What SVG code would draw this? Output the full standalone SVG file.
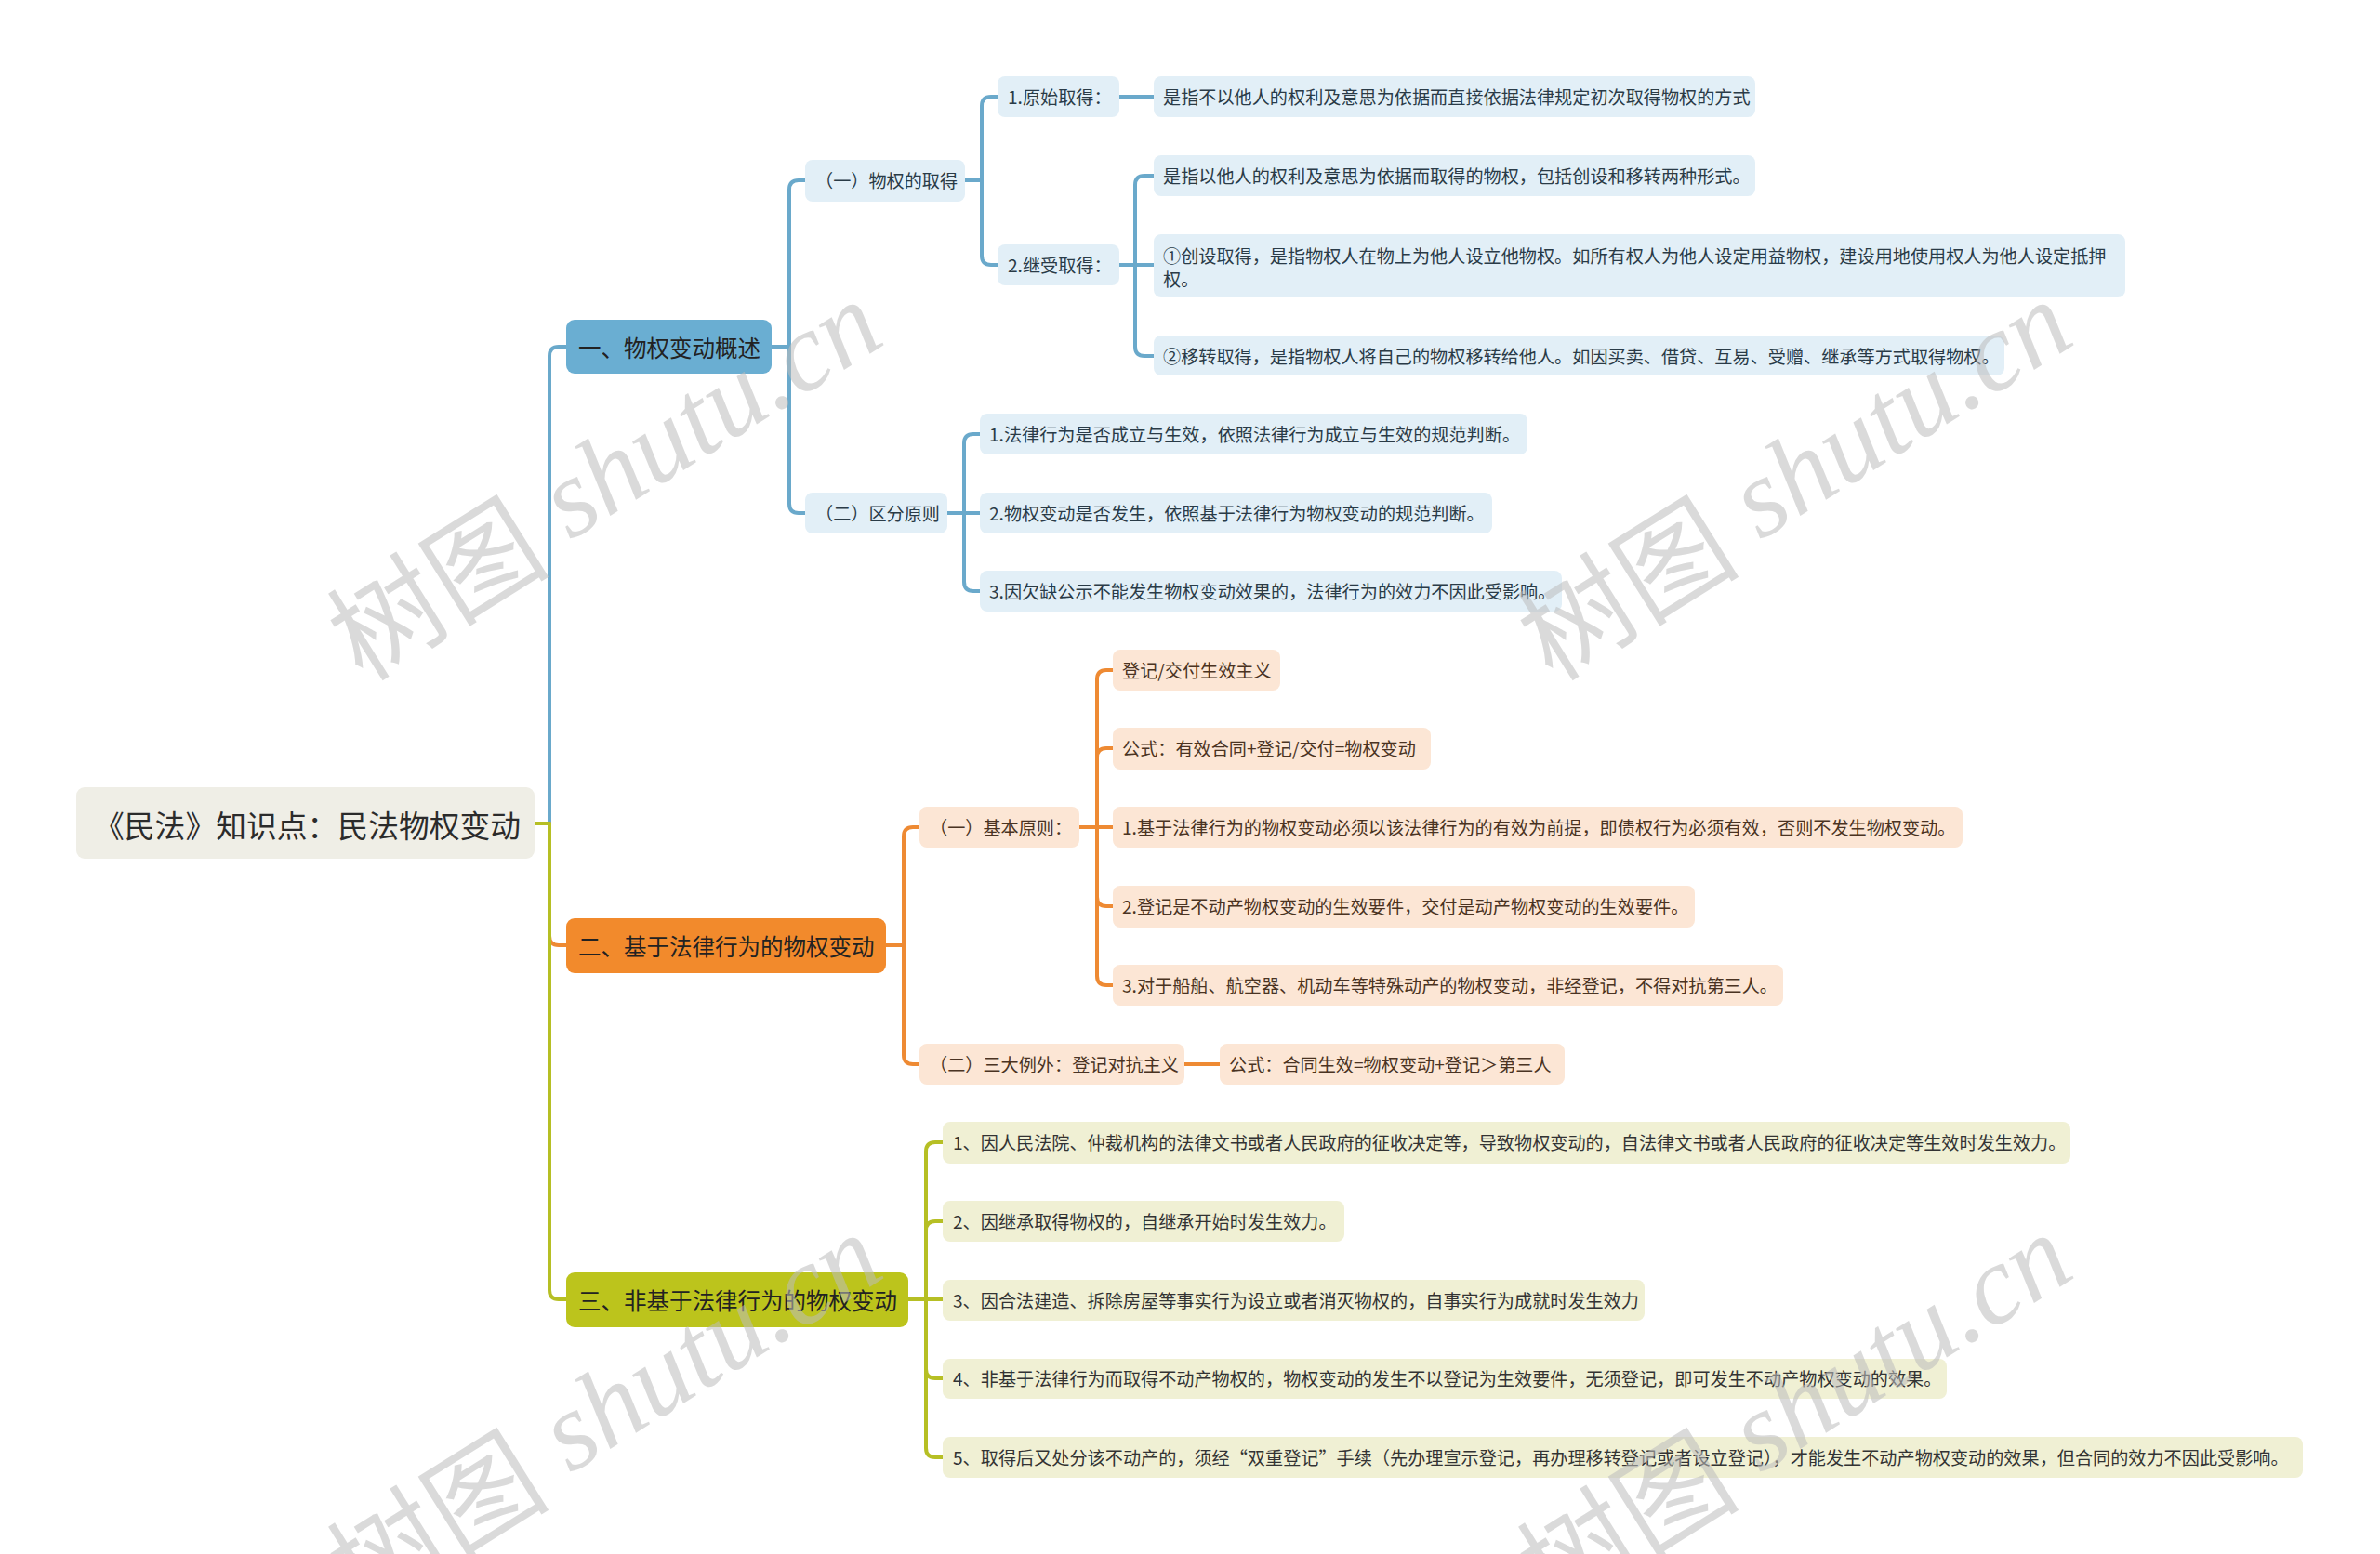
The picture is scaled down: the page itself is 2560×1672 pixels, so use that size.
<svg xmlns="http://www.w3.org/2000/svg" width="2560" height="1672" viewBox="0 0 2560 1672">
<style>
text{font-family:"Noto Sans CJK SC","Noto Sans",sans-serif;dominant-baseline:central}
.root{fill:#EFEEE6}
.rt{font-size:32.8px;fill:#2b2b2b}
.bt{font-size:24.5px;fill:#222}
.lt{font-size:19.15px}
.b1{fill:#6AAED2}.b2{fill:#F28A2C}.b3{fill:#BCC41C}
.l1{fill:#E2EFF7}.l2{fill:#FCE6D5}.l3{fill:#F0F0D4}
.t1{fill:#2a3b47}.t2{fill:#4a3322}.t3{fill:#333}
.c{fill:none;stroke-width:4;stroke-linecap:round;stroke-linejoin:round}
.cb{stroke:#6AA9CB}.co{stroke:#EE8A33}.cg{stroke:#B6BF24}
.wm{fill:#bdbdbd;opacity:0.55;font-size:120px}
.wm .en{font-family:"Liberation Serif",serif;font-style:italic}
</style>
<rect width="2560" height="1672" fill="#fff"/>
<g id="connectors">
<path class="c cb" d="M575,886 H591 V383 Q591,373 601,373 H609"/>
<path class="c co" d="M575,886 H591 V1007 Q591,1017 601,1017 H609"/>
<path class="c cg" d="M575,886 H591 V1388 Q591,1398 601,1398 H609"/>
<path class="c cb" d="M830,373 H849 V204 Q849,194 859,194 H866"/>
<path class="c cb" d="M830,373 H849 V542 Q849,552 859,552 H866"/>
<path class="c cb" d="M1038,194 H1056 V114 Q1056,104 1066,104 H1073"/>
<path class="c cb" d="M1038,194 H1056 V275 Q1056,285 1066,285 H1073"/>
<path class="c cb" d="M1204,104 H1241"/>
<path class="c cb" d="M1204,285 H1221 V199 Q1221,189 1231,189 H1241"/>
<path class="c cb" d="M1204,285 H1241"/>
<path class="c cb" d="M1204,285 H1221 V373 Q1221,383 1231,383 H1241"/>
<path class="c cb" d="M1019,552 H1037 V477 Q1037,467 1047,467 H1054"/>
<path class="c cb" d="M1019,552 H1054"/>
<path class="c cb" d="M1019,552 H1037 V626 Q1037,636 1047,636 H1054"/>
<path class="c co" d="M953,1017 H972 V900 Q972,890 982,890 H989"/>
<path class="c co" d="M953,1017 H972 V1135 Q972,1145 982,1145 H989"/>
<path class="c co" d="M1161,890 H1180 V731 Q1180,721 1190,721 H1197"/>
<path class="c co" d="M1161,890 H1180 V815 Q1180,805 1190,805 H1197"/>
<path class="c co" d="M1161,890 H1197"/>
<path class="c co" d="M1161,890 H1180 V965 Q1180,975 1190,975 H1197"/>
<path class="c co" d="M1161,890 H1180 V1050 Q1180,1060 1190,1060 H1197"/>
<path class="c co" d="M1274,1145 H1312"/>
<path class="c cg" d="M977,1398 H996 V1239 Q996,1229 1006,1229 H1014"/>
<path class="c cg" d="M977,1398 H996 V1324 Q996,1314 1006,1314 H1014"/>
<path class="c cg" d="M977,1398 H1014"/>
<path class="c cg" d="M977,1398 H996 V1473 Q996,1483 1006,1483 H1014"/>
<path class="c cg" d="M977,1398 H996 V1558 Q996,1568 1006,1568 H1014"/>
</g>
<g id="root"><rect class="root" x="82" y="847" width="493" height="77" rx="9"/><text class="rt" x="101" y="886">《民法》知识点：民法物权变动</text></g>
<g id="b1"><rect class="b1" x="609" y="344" width="221" height="58" rx="9"/><text class="bt" x="622" y="373">一、物权变动概述</text></g>
<g id="b2"><rect class="b2" x="609" y="988" width="344" height="59" rx="9"/><text class="bt" x="622" y="1017">二、基于法律行为的物权变动</text></g>
<g id="b3"><rect class="b3" x="609" y="1369" width="368" height="59" rx="9"/><text class="bt" x="622" y="1398">三、非基于法律行为的物权变动</text></g>

<g id="n1a"><rect class="l1" x="866" y="172" width="172" height="45" rx="8"/><text class="lt t1" x="877" y="194">（一）物权的取得</text></g>
<g id="n1b"><rect class="l1" x="866" y="530" width="153" height="44" rx="8"/><text class="lt t1" x="877" y="552">（二）区分原则</text></g>
<g id="n1a1"><rect class="l1" x="1073" y="82" width="131" height="44" rx="8"/><text class="lt t1" x="1084" y="104">1.原始取得：</text></g>
<g id="n1a2"><rect class="l1" x="1073" y="263" width="131" height="44" rx="8"/><text class="lt t1" x="1084" y="285">2.继受取得：</text></g>
<g id="n1a1a"><rect class="l1" x="1241" y="82" width="647" height="44" rx="8"/><text class="lt t1" x="1251" y="104">是指不以他人的权利及意思为依据而直接依据法律规定初次取得物权的方式</text></g>
<g id="n1a2a"><rect class="l1" x="1241" y="167" width="647" height="44" rx="8"/><text class="lt t1" x="1251" y="189">是指以他人的权利及意思为依据而取得的物权，包括创设和移转两种形式。</text></g>
<g id="n1a2b"><rect class="l1" x="1241" y="252" width="1045" height="68" rx="8"/><text class="lt t1" x="1251" y="275">①创设取得，是指物权人在物上为他人设立他物权。如所有权人为他人设定用益物权，建设用地使用权人为他人设定抵押</text><text class="lt t1" x="1251" y="300">权。</text></g>
<g id="n1a2c"><rect class="l1" x="1241" y="361" width="915" height="43" rx="8"/><text class="lt t1" x="1251" y="383">②移转取得，是指物权人将自己的物权移转给他人。如因买卖、借贷、互易、受赠、继承等方式取得物权。</text></g>
<g id="n1b1"><rect class="l1" x="1054" y="445" width="589" height="44" rx="8"/><text class="lt t1" x="1064" y="467">1.法律行为是否成立与生效，依照法律行为成立与生效的规范判断。</text></g>
<g id="n1b2"><rect class="l1" x="1054" y="530" width="551" height="44" rx="8"/><text class="lt t1" x="1064" y="552">2.物权变动是否发生，依照基于法律行为物权变动的规范判断。</text></g>
<g id="n1b3"><rect class="l1" x="1054" y="614" width="626" height="44" rx="8"/><text class="lt t1" x="1064" y="636">3.因欠缺公示不能发生物权变动效果的，法律行为的效力不因此受影响。</text></g>

<g id="n2a"><rect class="l2" x="989" y="868" width="172" height="44" rx="8"/><text class="lt t2" x="1000" y="890">（一）基本原则：</text></g>
<g id="n2b"><rect class="l2" x="989" y="1123" width="285" height="44" rx="8"/><text class="lt t2" x="1000" y="1145">（二）三大例外：登记对抗主义</text></g>
<g id="n2a1"><rect class="l2" x="1197" y="699" width="180" height="44" rx="8"/><text class="lt t2" x="1207" y="721">登记/交付生效主义</text></g>
<g id="n2a2"><rect class="l2" x="1197" y="783" width="342" height="45" rx="8"/><text class="lt t2" x="1207" y="805">公式：有效合同+登记/交付=物权变动</text></g>
<g id="n2a3"><rect class="l2" x="1197" y="868" width="914" height="44" rx="8"/><text class="lt t2" x="1207" y="890">1.基于法律行为的物权变动必须以该法律行为的有效为前提，即债权行为必须有效，否则不发生物权变动。</text></g>
<g id="n2a4"><rect class="l2" x="1197" y="953" width="626" height="45" rx="8"/><text class="lt t2" x="1207" y="975">2.登记是不动产物权变动的生效要件，交付是动产物权变动的生效要件。</text></g>
<g id="n2a5"><rect class="l2" x="1197" y="1038" width="721" height="44" rx="8"/><text class="lt t2" x="1207" y="1060">3.对于船舶、航空器、机动车等特殊动产的物权变动，非经登记，不得对抗第三人。</text></g>
<g id="n2b1"><rect class="l2" x="1312" y="1123" width="371" height="44" rx="8"/><text class="lt t2" x="1322" y="1145">公式：合同生效=物权变动+登记＞第三人</text></g>

<g id="n3a"><rect class="l3" x="1014" y="1207" width="1213" height="45" rx="8"/><text class="lt t3" x="1025" y="1229">1、因人民法院、仲裁机构的法律文书或者人民政府的征收决定等，导致物权变动的，自法律文书或者人民政府的征收决定等生效时发生效力。</text></g>
<g id="n3b"><rect class="l3" x="1014" y="1292" width="432" height="44" rx="8"/><text class="lt t3" x="1025" y="1314">2、因继承取得物权的，自继承开始时发生效力。</text></g>
<g id="n3c"><rect class="l3" x="1014" y="1377" width="755" height="44" rx="8"/><text class="lt t3" x="1025" y="1399">3、因合法建造、拆除房屋等事实行为设立或者消灭物权的，自事实行为成就时发生效力</text></g>
<g id="n3d"><rect class="l3" x="1014" y="1462" width="1080" height="43" rx="8"/><text class="lt t3" x="1025" y="1483">4、非基于法律行为而取得不动产物权的，物权变动的发生不以登记为生效要件，无须登记，即可发生不动产物权变动的效果。</text></g>
<g id="n3e"><rect class="l3" x="1014" y="1546" width="1463" height="44" rx="8"/><text class="lt t3" x="1025" y="1568">5、取得后又处分该不动产的，须经“双重登记”手续（先办理宣示登记，再办理移转登记或者设立登记），才能发生不动产物权变动的效果，但合同的效力不因此受影响。</text></g>

<g id="watermarks">
<text class="wm" x="648" y="512" text-anchor="middle" transform="rotate(-32 648 512)">树图<tspan class="en"> shutu.cn</tspan></text>
<text class="wm" x="1928" y="512" text-anchor="middle" transform="rotate(-32 1928 512)">树图<tspan class="en"> shutu.cn</tspan></text>
<text class="wm" x="648" y="1516" text-anchor="middle" transform="rotate(-32 648 1516)">树图<tspan class="en"> shutu.cn</tspan></text>
<text class="wm" x="1928" y="1516" text-anchor="middle" transform="rotate(-32 1928 1516)">树图<tspan class="en"> shutu.cn</tspan></text>
</g>
</svg>
